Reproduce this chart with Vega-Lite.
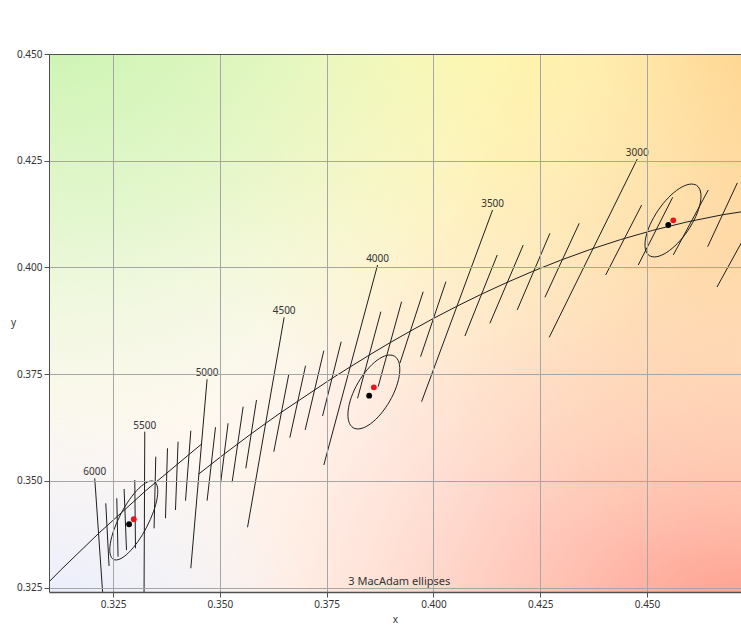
{
  "$schema": "https://vega.github.io/schema/vega-lite/v6.json",
  "width": 692,
  "height": 538,
  "autosize": {"type": "none"},
  "padding": {"left": 49, "top": 54, "right": 0, "bottom": 33},
  "config": {"view": {"stroke": null}, "font": "Noto Sans"},
  "datasets": {
    "plot": [{"panel": "plot"}],
    "caption": [{"label": "3  MacAdam ellipses"}],
    "isotherms": [
      {"T": 6000, "x1": 0.32071, "y1": 0.35063, "x2": 0.32331, "y2": 0.31293, "long": 1},
      {"T": 5900, "x1": 0.32329, "y1": 0.34478, "x2": 0.32406, "y2": 0.33010, "long": 0},
      {"T": 5800, "x1": 0.32587, "y1": 0.34595, "x2": 0.32617, "y2": 0.33227, "long": 0},
      {"T": 5700, "x1": 0.32758, "y1": 0.34813, "x2": 0.32814, "y2": 0.33384, "long": 0},
      {"T": 5600, "x1": 0.33008, "y1": 0.35024, "x2": 0.33025, "y2": 0.33424, "long": 0},
      {"T": 5500, "x1": 0.33242, "y1": 0.36155, "x2": 0.33224, "y2": 0.32052, "long": 1},
      {"T": 5400, "x1": 0.33500, "y1": 0.35569, "x2": 0.33460, "y2": 0.33892, "long": 0},
      {"T": 5300, "x1": 0.33774, "y1": 0.35766, "x2": 0.33727, "y2": 0.34127, "long": 0},
      {"T": 5200, "x1": 0.34022, "y1": 0.35920, "x2": 0.33961, "y2": 0.34321, "long": 0},
      {"T": 5100, "x1": 0.34320, "y1": 0.36178, "x2": 0.34196, "y2": 0.34539, "long": 0},
      {"T": 5000, "x1": 0.34701, "y1": 0.37382, "x2": 0.34320, "y2": 0.32956, "long": 1},
      {"T": 4900, "x1": 0.34898, "y1": 0.36258, "x2": 0.34701, "y2": 0.34539, "long": 0},
      {"T": 4800, "x1": 0.35193, "y1": 0.36351, "x2": 0.35015, "y2": 0.34930, "long": 0},
      {"T": 4700, "x1": 0.35545, "y1": 0.36740, "x2": 0.35287, "y2": 0.34970, "long": 0},
      {"T": 4600, "x1": 0.35858, "y1": 0.36897, "x2": 0.35608, "y2": 0.35297, "long": 0},
      {"T": 4500, "x1": 0.36505, "y1": 0.38834, "x2": 0.35648, "y2": 0.33916, "long": 1},
      {"T": 4400, "x1": 0.36615, "y1": 0.37506, "x2": 0.36263, "y2": 0.35686, "long": 0},
      {"T": 4300, "x1": 0.37006, "y1": 0.37700, "x2": 0.36638, "y2": 0.36014, "long": 0},
      {"T": 4200, "x1": 0.37434, "y1": 0.38052, "x2": 0.36997, "y2": 0.36195, "long": 0},
      {"T": 4100, "x1": 0.37840, "y1": 0.38262, "x2": 0.37404, "y2": 0.36522, "long": 0},
      {"T": 4000, "x1": 0.38692, "y1": 0.40059, "x2": 0.37434, "y2": 0.35375, "long": 1},
      {"T": 3900, "x1": 0.38769, "y1": 0.38965, "x2": 0.38224, "y2": 0.36937, "long": 0},
      {"T": 3800, "x1": 0.39254, "y1": 0.39199, "x2": 0.38706, "y2": 0.37209, "long": 0},
      {"T": 3700, "x1": 0.39760, "y1": 0.39433, "x2": 0.39214, "y2": 0.37756, "long": 0},
      {"T": 3600, "x1": 0.40292, "y1": 0.39668, "x2": 0.39699, "y2": 0.37911, "long": 0},
      {"T": 3500, "x1": 0.41385, "y1": 0.41347, "x2": 0.39722, "y2": 0.36857, "long": 1},
      {"T": 3400, "x1": 0.41493, "y1": 0.40293, "x2": 0.40737, "y2": 0.38396, "long": 0},
      {"T": 3300, "x1": 0.42102, "y1": 0.40527, "x2": 0.41322, "y2": 0.38693, "long": 0},
      {"T": 3200, "x1": 0.42727, "y1": 0.40801, "x2": 0.41961, "y2": 0.39005, "long": 0},
      {"T": 3100, "x1": 0.43413, "y1": 0.41035, "x2": 0.42610, "y2": 0.39302, "long": 0},
      {"T": 3000, "x1": 0.44772, "y1": 0.42541, "x2": 0.42711, "y2": 0.38365, "long": 1},
      {"T": 2900, "x1": 0.44875, "y1": 0.41464, "x2": 0.44032, "y2": 0.39824, "long": 0},
      {"T": 2800, "x1": 0.45601, "y1": 0.41644, "x2": 0.44795, "y2": 0.40059, "long": 0},
      {"T": 2700, "x1": 0.46434, "y1": 0.41815, "x2": 0.45615, "y2": 0.40293, "long": 0},
      {"T": 2600, "x1": 0.47114, "y1": 0.41981, "x2": 0.46420, "y2": 0.40487, "long": 0},
      {"T": 2500, "x1": 0.48652, "y1": 0.43197, "x2": 0.46638, "y2": 0.39543, "long": 1}
    ],
    "loci": [
      {"locus": "daylight", "T": 7000, "x": 0.305358, "y": 0.321645},
      {"locus": "daylight", "T": 6500, "x": 0.312778, "y": 0.329183},
      {"locus": "daylight", "T": 6000, "x": 0.321691, "y": 0.337798},
      {"locus": "daylight", "T": 5500, "x": 0.332502, "y": 0.347608},
      {"locus": "daylight", "T": 5000, "x": 0.345741, "y": 0.358666},
      {"locus": "planck", "T": 5000, "x": 0.344992, "y": 0.351586},
      {"locus": "planck", "T": 4800, "x": 0.350862, "y": 0.356187},
      {"locus": "planck", "T": 4600, "x": 0.357279, "y": 0.361005},
      {"locus": "planck", "T": 4500, "x": 0.360710, "y": 0.363493},
      {"locus": "planck", "T": 4400, "x": 0.364302, "y": 0.366042},
      {"locus": "planck", "T": 4100, "x": 0.376132, "y": 0.373956},
      {"locus": "planck", "T": 4000, "x": 0.380529, "y": 0.376735},
      {"locus": "planck", "T": 3900, "x": 0.385066, "y": 0.379541},
      {"locus": "planck", "T": 3800, "x": 0.389802, "y": 0.382369},
      {"locus": "planck", "T": 3700, "x": 0.394752, "y": 0.385190},
      {"locus": "planck", "T": 3600, "x": 0.399927, "y": 0.388032},
      {"locus": "planck", "T": 3500, "x": 0.405342, "y": 0.390852},
      {"locus": "planck", "T": 3400, "x": 0.411012, "y": 0.393641},
      {"locus": "planck", "T": 3300, "x": 0.416953, "y": 0.396385},
      {"locus": "planck", "T": 3200, "x": 0.423182, "y": 0.399079},
      {"locus": "planck", "T": 3100, "x": 0.429718, "y": 0.401680},
      {"locus": "planck", "T": 3000, "x": 0.436579, "y": 0.404175},
      {"locus": "planck", "T": 2900, "x": 0.443786, "y": 0.406528},
      {"locus": "planck", "T": 2800, "x": 0.451357, "y": 0.408702},
      {"locus": "planck", "T": 2700, "x": 0.459315, "y": 0.410660},
      {"locus": "planck", "T": 2600, "x": 0.467676, "y": 0.412348},
      {"locus": "planck", "T": 2500, "x": 0.476459, "y": 0.413716}
    ],
    "ellipses": [
      {"e": 1, "k": 0, "x": 0.334595, "y": 0.349869},
      {"e": 1, "k": 1, "x": 0.333081, "y": 0.349775},
      {"e": 1, "k": 2, "x": 0.331075, "y": 0.348307},
      {"e": 1, "k": 3, "x": 0.328882, "y": 0.345689},
      {"e": 1, "k": 4, "x": 0.326836, "y": 0.342318},
      {"e": 1, "k": 5, "x": 0.325248, "y": 0.338709},
      {"e": 1, "k": 6, "x": 0.324361, "y": 0.335411},
      {"e": 1, "k": 7, "x": 0.324309, "y": 0.332925},
      {"e": 1, "k": 8, "x": 0.325101, "y": 0.331631},
      {"e": 1, "k": 9, "x": 0.326615, "y": 0.331725},
      {"e": 1, "k": 10, "x": 0.328621, "y": 0.333193},
      {"e": 1, "k": 11, "x": 0.330814, "y": 0.335811},
      {"e": 1, "k": 12, "x": 0.332860, "y": 0.339182},
      {"e": 1, "k": 13, "x": 0.334448, "y": 0.342791},
      {"e": 1, "k": 14, "x": 0.335335, "y": 0.346089},
      {"e": 1, "k": 15, "x": 0.335387, "y": 0.348575},
      {"e": 2, "k": 0, "x": 0.390860, "y": 0.379237},
      {"e": 2, "k": 1, "x": 0.389071, "y": 0.379413},
      {"e": 2, "k": 2, "x": 0.386822, "y": 0.378285},
      {"e": 2, "k": 3, "x": 0.384457, "y": 0.376024},
      {"e": 2, "k": 4, "x": 0.382334, "y": 0.372974},
      {"e": 2, "k": 5, "x": 0.380777, "y": 0.369600},
      {"e": 2, "k": 6, "x": 0.380024, "y": 0.366415},
      {"e": 2, "k": 7, "x": 0.380189, "y": 0.363905},
      {"e": 2, "k": 8, "x": 0.381246, "y": 0.362451},
      {"e": 2, "k": 9, "x": 0.383035, "y": 0.362275},
      {"e": 2, "k": 10, "x": 0.385284, "y": 0.363403},
      {"e": 2, "k": 11, "x": 0.387649, "y": 0.365664},
      {"e": 2, "k": 12, "x": 0.389772, "y": 0.368714},
      {"e": 2, "k": 13, "x": 0.391329, "y": 0.372088},
      {"e": 2, "k": 14, "x": 0.392082, "y": 0.375273},
      {"e": 2, "k": 15, "x": 0.391917, "y": 0.377783},
      {"e": 3, "k": 0, "x": 0.461629, "y": 0.419210},
      {"e": 3, "k": 1, "x": 0.459870, "y": 0.419490},
      {"e": 3, "k": 2, "x": 0.457535, "y": 0.418478},
      {"e": 3, "k": 3, "x": 0.454977, "y": 0.416329},
      {"e": 3, "k": 4, "x": 0.452586, "y": 0.413370},
      {"e": 3, "k": 5, "x": 0.450727, "y": 0.410051},
      {"e": 3, "k": 6, "x": 0.449681, "y": 0.406878},
      {"e": 3, "k": 7, "x": 0.449610, "y": 0.404332},
      {"e": 3, "k": 8, "x": 0.450523, "y": 0.402804},
      {"e": 3, "k": 9, "x": 0.452282, "y": 0.402524},
      {"e": 3, "k": 10, "x": 0.454617, "y": 0.403536},
      {"e": 3, "k": 11, "x": 0.457175, "y": 0.405685},
      {"e": 3, "k": 12, "x": 0.459566, "y": 0.408644},
      {"e": 3, "k": 13, "x": 0.461425, "y": 0.411963},
      {"e": 3, "k": 14, "x": 0.462471, "y": 0.415136},
      {"e": 3, "k": 15, "x": 0.462542, "y": 0.417682}
    ],
    "dots": [
      {"kind": "target", "x": 0.32875, "y": 0.33986},
      {"kind": "target", "x": 0.38495, "y": 0.36998},
      {"kind": "target", "x": 0.45498, "y": 0.40995},
      {"kind": "measured", "x": 0.32985, "y": 0.34103},
      {"kind": "measured", "x": 0.38605, "y": 0.37194},
      {"kind": "measured", "x": 0.45615, "y": 0.41105}
    ]
  },
  "layer": [
    {
      "data": {"name": "plot"},
      "mark": {"type": "rect", "fill": "#fff8f0"},
      "encoding": {
        "x": {"datum": 0.31, "type": "quantitative", "title": "x",
          "scale": {"domain": [0.31, 0.472], "nice": false, "zero": false},
          "axis": {"values": [0.325, 0.35, 0.375, 0.4, 0.425, 0.45], "format": ".3f", "title": "x",
            "grid": true, "gridColor": "#a6a6a6", "gridWidth": 1, "tickColor": "#555555", "tickSize": 5,
            "domainColor": "#505050", "domainWidth": 1.5, "labelFontSize": 10, "labelColor": "#333333",
            "labelPadding": 2, "titleFontSize": 10, "titleFontWeight": "normal", "titleColor": "#333333",
            "titlePadding": 5, "zindex": 1}},
        "x2": {"datum": 0.472},
        "y": {"datum": 0.324, "type": "quantitative", "title": "y",
          "scale": {"domain": [0.324, 0.45], "nice": false, "zero": false},
          "axis": {"values": [0.325, 0.35, 0.375, 0.4, 0.425, 0.45], "format": ".3f", "title": "y",
            "grid": true, "gridColor": {"condition": {"test": "datum.value > 0.4499", "value": "#505050"}, "value": "#a6a6a6"},
            "gridWidth": 1, "tickColor": "#555555", "tickSize": 5, "domainColor": "#505050",
            "labelFontSize": 10, "labelColor": "#333333", "labelPadding": 2,
            "titleAngle": 0, "titleX": -36, "titleY": 268, "titleAlign": "center", "titleBaseline": "middle",
            "titleFontSize": 10, "titleFontWeight": "normal", "titleColor": "#333333", "zindex": 1}},
        "y2": {"datum": 0.45}
      }
    },
    {
      "data": {"name": "plot"},
      "mark": {"type": "rect", "fill": {"gradient": "radial", "x1": 1, "y1": 1, "r1": 0, "x2": 1, "y2": 1, "r2": 0.85,
        "stops": [{"offset": 0, "color": "rgba(255,145,125,1)"}, {"offset": 0.5, "color": "rgba(255,180,165,0.55)"}, {"offset": 1, "color": "rgba(255,220,210,0)"}]}},
      "encoding": {"x": {"datum": 0.31, "type": "quantitative", "title": "x"}, "x2": {"datum": 0.472},
        "y": {"datum": 0.324, "type": "quantitative", "title": "y"}, "y2": {"datum": 0.45}}
    },
    {
      "data": {"name": "plot"},
      "mark": {"type": "rect", "fill": {"gradient": "radial", "x1": 0, "y1": 1, "r1": 0, "x2": 0, "y2": 1, "r2": 0.4,
        "stops": [{"offset": 0, "color": "rgba(225,232,255,1)"}, {"offset": 1, "color": "rgba(235,240,255,0)"}]}},
      "encoding": {"x": {"datum": 0.31, "type": "quantitative", "title": "x"}, "x2": {"datum": 0.472},
        "y": {"datum": 0.324, "type": "quantitative", "title": "y"}, "y2": {"datum": 0.45}}
    },
    {
      "data": {"name": "plot"},
      "mark": {"type": "rect", "fill": {"gradient": "radial", "x1": 1, "y1": 0, "r1": 0, "x2": 1, "y2": 0, "r2": 0.85,
        "stops": [{"offset": 0, "color": "rgba(255,195,110,1)"}, {"offset": 0.5, "color": "rgba(255,212,145,0.65)"}, {"offset": 1, "color": "rgba(255,230,180,0)"}]}},
      "encoding": {"x": {"datum": 0.31, "type": "quantitative", "title": "x"}, "x2": {"datum": 0.472},
        "y": {"datum": 0.324, "type": "quantitative", "title": "y"}, "y2": {"datum": 0.45}}
    },
    {
      "data": {"name": "plot"},
      "mark": {"type": "rect", "fill": {"gradient": "radial", "x1": 0.52, "y1": 0, "r1": 0, "x2": 0.52, "y2": 0, "r2": 0.6,
        "stops": [{"offset": 0, "color": "rgba(255,251,160,1)"}, {"offset": 0.5, "color": "rgba(255,250,185,0.65)"}, {"offset": 1, "color": "rgba(255,250,210,0)"}]}},
      "encoding": {"x": {"datum": 0.31, "type": "quantitative", "title": "x"}, "x2": {"datum": 0.472},
        "y": {"datum": 0.324, "type": "quantitative", "title": "y"}, "y2": {"datum": 0.45}}
    },
    {
      "data": {"name": "plot"},
      "mark": {"type": "rect", "fill": {"gradient": "radial", "x1": 0, "y1": 0, "r1": 0, "x2": 0, "y2": 0, "r2": 0.7,
        "stops": [{"offset": 0, "color": "rgba(196,243,168,1)"}, {"offset": 0.5, "color": "rgba(215,246,192,0.7)"}, {"offset": 1, "color": "rgba(235,250,220,0)"}]}},
      "encoding": {"x": {"datum": 0.31, "type": "quantitative", "title": "x"}, "x2": {"datum": 0.472},
        "y": {"datum": 0.324, "type": "quantitative", "title": "y"}, "y2": {"datum": 0.45}}
    },
    {
      "data": {"name": "isotherms"},
      "mark": {"type": "rule", "color": "#1e1e1e", "strokeWidth": 1, "clip": true},
      "encoding": {
        "x": {"field": "x1", "type": "quantitative", "title": "x"},
        "y": {"field": "y1", "type": "quantitative", "title": "y"},
        "x2": {"field": "x2"},
        "y2": {"field": "y2"}
      }
    },
    {
      "data": {"name": "isotherms"},
      "transform": [{"filter": "datum.long == 1 && datum.x1 < 0.472"}],
      "mark": {"type": "text", "baseline": "bottom", "align": "center", "dy": -1, "fontSize": 10, "color": "#333333", "clip": true},
      "encoding": {
        "x": {"field": "x1", "type": "quantitative", "title": "x"},
        "y": {"field": "y1", "type": "quantitative", "title": "y"},
        "text": {"field": "T", "type": "nominal"}
      }
    },
    {
      "data": {"name": "loci"},
      "mark": {"type": "line", "color": "#1e1e1e", "strokeWidth": 1, "clip": true},
      "encoding": {
        "x": {"field": "x", "type": "quantitative", "title": "x"},
        "y": {"field": "y", "type": "quantitative", "title": "y"},
        "detail": {"field": "locus", "type": "nominal"},
        "order": {"field": "T", "type": "quantitative"}
      }
    },
    {
      "data": {"name": "ellipses"},
      "mark": {"type": "line", "color": "#1e1e1e", "strokeWidth": 1, "interpolate": "cardinal-closed", "clip": true},
      "encoding": {
        "x": {"field": "x", "type": "quantitative", "title": "x"},
        "y": {"field": "y", "type": "quantitative", "title": "y"},
        "detail": {"field": "e", "type": "nominal"},
        "order": {"field": "k", "type": "quantitative"}
      }
    },
    {
      "data": {"name": "dots"},
      "mark": {"type": "point", "filled": true, "opacity": 1, "size": 34, "clip": true},
      "encoding": {
        "x": {"field": "x", "type": "quantitative", "title": "x"},
        "y": {"field": "y", "type": "quantitative", "title": "y"},
        "color": {"field": "kind", "type": "nominal", "scale": {"domain": ["target", "measured"], "range": ["#000000", "#e8141c"]}, "legend": null}
      }
    },
    {
      "data": {"name": "caption"},
      "mark": {"type": "text", "fontSize": 11, "color": "#333333", "align": "center", "baseline": "middle"},
      "encoding": {
        "x": {"datum": 0.392, "type": "quantitative", "title": "x"},
        "y": {"datum": 0.3263, "type": "quantitative", "title": "y"},
        "text": {"field": "label", "type": "nominal"}
      }
    }
  ]
}
